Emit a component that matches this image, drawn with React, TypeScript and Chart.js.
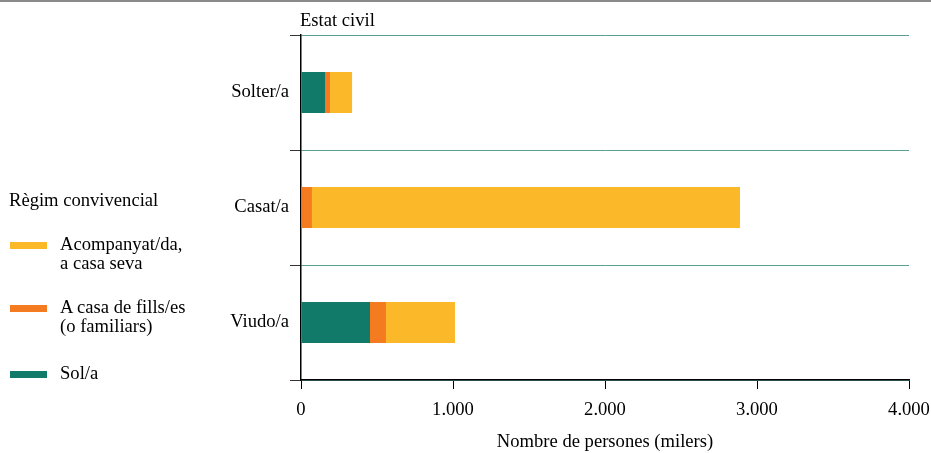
import React, { useEffect, useRef } from "react";
import { Chart, registerables } from "chart.js";

Chart.register(...registerables);

const categories = ["Solter/a", "Casat/a", "Viudo/a"];
const solValues = [158, 0, 454];
const familiarsValues = [33, 72, 105];
const acompanyatValues = [145, 2816, 454];
const xTicks = [0, 1000, 2000, 3000, 4000];

const TEAL = "#117a68";
const ORANGE = "#f47b20";
const YELLOW = "#fbb829";
const FONT = "'Liberation Serif', 'Times New Roman', serif";
const FS = 18.6;

const legendItems = [
  { color: YELLOW, lines: ["Acompanyat/da,", "a casa seva"], top: 234 },
  { color: ORANGE, lines: ["A casa de fills/es", "(o familiars)"], top: 297 },
  { color: TEAL, lines: ["Sol/a"], top: 363 },
];

const fmt = (v: number) => String(v).replace(/\B(?=(\d{3})+(?!\d))/g, ".");

export default function App() {
  const ref = useRef<HTMLCanvasElement | null>(null);
  useEffect(() => {
    if (!ref.current) return;
    const chart = new Chart(ref.current, {
      type: "bar",
      data: {
        labels: categories,
        datasets: [
          { label: "Sol/a", data: solValues, backgroundColor: TEAL },
          { label: "A casa de fills/es (o familiars)", data: familiarsValues, backgroundColor: ORANGE },
          { label: "Acompanyat/da, a casa seva", data: acompanyatValues, backgroundColor: YELLOW },
        ],
      },
      options: {
        indexAxis: "y",
        responsive: false,
        animation: false,
        maintainAspectRatio: false,
        layout: { padding: { left: 0, right: 22, top: 35, bottom: 0 } },
        plugins: { legend: { display: false }, tooltip: { enabled: false } },
        datasets: { bar: { categoryPercentage: 1, barPercentage: 0.357, borderWidth: 0 } },
        scales: {
          x: {
            stacked: true,
            min: 0,
            max: 4000,
            afterBuildTicks: (s: any) => {
              s.ticks = xTicks.map((v) => ({ value: v }));
            },
            afterFit: (s: any) => {
              s.height = 73;
              s.paddingRight = 0;
              s.paddingLeft = 0;
            },
            grid: {
              drawOnChartArea: false,
              drawTicks: true,
              tickLength: 9,
              color: "#000",
              tickColor: "#000",
            },
            border: { display: true, color: "#000", width: 1.5 },
            ticks: {
              color: "#000",
              font: { family: FONT, size: FS },
              padding: 10,
              maxRotation: 0,
              callback: (v: any) => fmt(Number(v)),
            },
            title: {
              display: true,
              text: "Nombre de persones (milers)",
              color: "#000",
              font: { family: FONT, size: FS },
              padding: { top: 4, bottom: 0 },
            },
          },
          y: {
            stacked: true,
            afterFit: (s: any) => {
              s.width = 301;
              s.paddingTop = 0;
              s.paddingBottom = 0;
            },
            grid: {
              offset: true,
              drawOnChartArea: true,
              color: "#5a9e92",
              tickColor: "#333",
              tickLength: 11,
              lineWidth: 1,
            },
            border: { display: true, color: "#000", width: 1.5 },
            ticks: {
              color: "#000",
              font: { family: FONT, size: FS },
              padding: 1,
            },
          },
        },
      },
    });
    return () => chart.destroy();
  }, []);

  return (
    <div
      style={{
        position: "fixed",
        left: 0,
        top: 0,
        width: 931,
        height: 453,
        background: "#fff",
        fontFamily: FONT,
        color: "#000",
        overflow: "hidden",
      }}
    >
      <div style={{ position: "absolute", left: 0, top: 0, width: 931, height: 2, background: "#8a8a8a" }} />
      <canvas ref={ref} width={931} height={453} style={{ position: "absolute", left: 0, top: 0 }} />
      <div style={{ position: "absolute", left: 300, top: 9, fontSize: FS, lineHeight: "22px", whiteSpace: "nowrap" }}>
        Estat civil
      </div>
      <div style={{ position: "absolute", left: 9, top: 189, fontSize: FS, lineHeight: "22px", whiteSpace: "nowrap" }}>
        Règim convivencial
      </div>
      {legendItems.map((it) => (
        <div key={it.color} style={{ position: "absolute", left: 10, top: it.top }}>
          <div style={{ position: "absolute", left: 0, top: 8, width: 37, height: 7, background: it.color }} />
          <div style={{ position: "absolute", left: 50, top: 0, fontSize: FS, lineHeight: "19px", whiteSpace: "nowrap" }}>
            {it.lines.map((l) => (
              <div key={l}>{l}</div>
            ))}
          </div>
        </div>
      ))}
    </div>
  );
}
